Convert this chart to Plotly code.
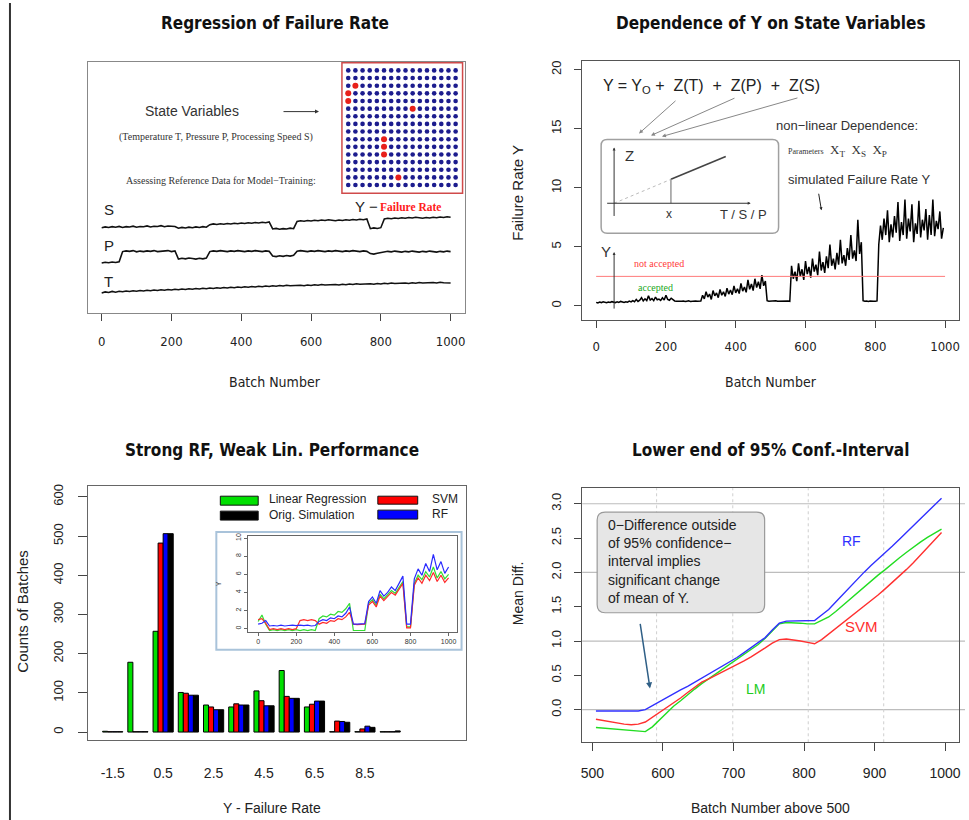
import plotly.graph_objects as go

W, H = 969, 820

# ---------------- data ----------------
# Panel 1: state variables S, P, T (every 10 batches)
batch10 = list(range(0, 1001, 10))
S_level = [33.4, 33.7, 33.5, 33.8, 33.6, 33.9, 33.5, 33.8, 33.7, 34.0, 33.6, 33.9, 33.8, 34.1, 33.7, 34.0, 33.9, 34.2, 33.8, 34.1, 34.0, 33.9,
           33.2, 33.5, 33.3, 33.6, 33.4, 33.7, 33.5, 33.8, 33.6,
           34.6, 34.9, 34.7, 35.0, 34.8, 35.1, 34.9, 35.2, 35.0, 35.3, 35.1, 35.4, 35.2, 35.5, 35.3, 35.6, 35.4, 35.7,
           32.9, 33.1, 32.8, 33.0, 32.9, 33.2, 33.0,
           35.9, 36.2, 36.0, 36.3, 36.1, 36.4, 36.2, 36.5, 36.3, 36.6, 36.4, 36.2, 36.5, 36.3, 36.6, 36.4, 36.7, 36.5, 36.8, 36.6, 36.9,
           33.0, 33.3, 33.1, 33.4,
           36.9, 37.2, 37.0, 37.3, 37.1, 37.4, 37.2, 37.5, 37.3, 37.6, 37.4, 37.2, 37.5, 37.3, 37.6, 37.4, 37.7, 37.5, 37.8, 37.6]
P_level = [19.2, 19.5, 19.3, 19.6, 19.4, 19.7,
           23.8, 24.1, 23.9, 24.2, 23.7, 24.0, 23.8, 24.1, 23.9, 24.2, 23.8, 24.0, 23.9, 24.2, 23.8, 24.1,
           20.8, 21.1, 20.9, 21.2, 21.0, 20.8, 21.1, 20.9, 21.2,
           23.8, 24.1, 23.9, 24.2, 24.0, 23.8, 24.1, 23.9, 24.2, 24.0, 23.8, 24.1, 23.9, 24.2, 24.0, 23.8, 24.1, 23.9,
           22.0, 21.8, 22.1, 21.9, 22.2, 22.0, 22.3,
           23.9, 24.2, 24.0, 23.8, 24.1, 23.9, 24.2, 24.0, 23.8, 24.1, 23.9, 24.2, 24.0, 23.8, 24.1, 23.9, 24.2, 24.0, 23.8, 24.1, 23.9,
           23.0, 22.8, 23.1, 23.3,
           23.6, 23.9, 23.7, 24.0, 23.8, 23.6, 23.9, 23.7, 24.0, 23.8, 23.6, 23.9, 23.7, 24.0, 23.8, 23.6, 23.9, 23.7, 24.0, 23.8]
T_level = [7.2, 7.6, 7.4, 7.8, 7.5, 7.9, 7.7, 8.0, 7.8, 8.1,
           7.9, 8.2, 8.0, 8.3, 8.1, 8.4, 8.2, 8.5, 8.3, 8.6,
           8.4, 8.7, 8.5, 8.8, 8.6, 8.9, 8.7, 9.0, 8.8, 9.1,
           8.9, 9.2, 9.0, 9.3, 9.1, 9.4, 9.2, 9.5, 9.3, 9.6,
           9.4, 9.7, 9.5, 9.8, 9.6, 9.9, 9.7, 10.0, 9.8, 10.1,
           9.9, 10.2, 10.0, 10.3, 10.1, 10.2, 10.0, 10.3, 10.1, 10.4,
           10.2, 10.5, 10.3, 10.6, 10.4, 10.5, 10.3, 10.6, 10.4, 10.7,
           10.5, 10.8, 10.6, 10.9, 10.7, 10.8, 10.6, 10.9, 10.7, 11.0,
           10.8, 11.1, 10.9, 11.2, 11.0, 11.1, 10.9, 11.2, 11.0, 11.3,
           11.1, 11.4, 11.2, 11.3, 11.1, 11.4, 11.2, 11.5, 11.3, 11.4,
           11.2]
state_labels = ["S", "P", "T"]

# Panel 1: 16 x 16 sensor grid, flagged cells in red
grid_n = 16
red_col = [1, 0, 0, 9, 5, 5, 5, 7]
red_row = [2, 3, 4, 5, 9, 10, 11, 14]

# Panel 2: simulated failure rate Y (every 5 batches)
batch5 = list(range(0, 1000, 5))
Y_rate = [0.30, 0.25, 0.32, 0.28, 0.35, 0.30, 0.27, 0.33, 0.29, 0.36,
          0.31, 0.28, 0.34, 0.30, 0.38, 0.33, 0.29, 0.35, 0.31, 0.40,
          0.34, 0.45, 0.36, 0.55, 0.38, 0.48, 0.70, 0.42, 0.60, 0.45,
          0.85, 0.50, 0.62, 0.44, 0.75, 0.52, 0.58, 0.46, 0.68, 0.50,
          0.90, 0.55, 0.48, 0.65, 0.52, 0.42, 0.40, 0.38, 0.42, 0.39,
          0.41, 0.37, 0.40, 0.43, 0.38, 0.41, 0.39, 0.42, 0.40, 0.38,
          0.41,
          0.90, 0.60, 1.20, 0.75, 1.00, 0.55, 1.30, 0.85, 1.10, 0.70,
          1.40, 0.90, 1.20, 0.80, 1.50, 1.00, 1.35, 0.95, 1.70, 1.10,
          1.45, 1.05, 1.90, 1.25, 1.60, 1.15, 2.20, 1.40, 1.85, 1.30,
          2.30, 1.55, 2.05, 1.45, 2.60, 1.70, 2.10,
          0.45, 0.40, 0.42, 0.38, 0.41, 0.44, 0.39, 0.40, 0.43, 0.38, 0.41, 0.40, 0.42, 0.39,
          3.40, 2.30, 2.90, 2.10, 3.60, 2.50, 3.10, 2.20, 3.80, 2.70,
          3.30, 2.40, 4.00, 2.90, 3.50, 2.60, 4.60, 3.00, 3.70, 2.80,
          4.20, 3.20, 5.20, 3.40, 4.00, 3.10, 4.50, 3.50, 5.60, 3.60,
          4.30, 3.40, 4.90, 3.90, 6.00, 4.00, 4.70, 3.80, 7.30, 4.40,
          5.40,
          0.45, 0.40, 0.42, 0.38, 0.41, 0.43, 0.39, 0.40, 0.42,
          5.20, 6.80, 5.60, 7.40, 6.00, 8.10, 5.40, 6.90, 5.80, 7.60,
          6.20, 8.80, 5.50, 7.10, 6.00, 9.00, 5.70, 7.40, 6.30, 8.60,
          5.40, 7.00, 6.10, 8.90, 5.80, 7.30, 6.40, 8.20, 5.60, 7.70,
          6.00, 9.00, 5.90, 7.20, 6.50, 8.00, 5.70, 6.60]
accept_limit = 2.5
limit_span = [0, 1000]

# Panel 3: histogram of failure rate (counts of batches)
hist_bins = ["-1.5", "-0.5", "0.5", "1.5", "2.5", "3.5", "4.5", "5.5", "6.5", "7.5", "8.5", "9.5"]
lm_counts = [2, 178, 257, 101, 69, 64, 105, 157, 64, 1, 1, 1]
svm_counts = [1, 1, 482, 99, 64, 72, 80, 91, 71, 28, 8, 1]
rf_counts = [1, 1, 506, 94, 57, 69, 67, 86, 79, 27, 15, 1]
orig_counts = [1, 1, 506, 94, 57, 69, 67, 86, 79, 25, 12, 3]

# Panel 3 inset: model predictions (every 20 batches)
batch20 = list(range(0, 1001, 20))
lm_pred = [0.8, 1.5, 0.5, -0.2, -0.1, -0.2, -0.1, -0.2, -0.1, -0.2, -0.1, -0.2, -0.1, -0.2, -0.1, -0.2,
           1.1, 1.4, 1.3, 1.6, 1.5, 1.9, 1.8, 2.2, 2.8, -0.2, -0.2, -0.2, -0.2,
           2.8, 3.2, 2.6, 3.8, 3.3, 3.7, 4.2, 3.9, 4.6, 5.2, 0.2, 0.2,
           5.0, 5.9, 5.4, 6.3, 5.7, 6.8, 5.6, 6.3, 5.5, 6.0]
svm_pred = [1.0, 1.1, 0.6, -0.1, 0.0, -0.1, 0.0, -0.1, 0.0, -0.1, 0.0, 0.9, 1.0, 0.9, 1.0, 0.9,
            0.5, 0.7, 0.6, 0.9, 0.8, 1.1, 1.0, 1.3, 1.8, 0.5, 0.45, 0.5, 0.5,
            2.6, 3.0, 2.4, 3.6, 3.1, 3.5, 4.0, 3.7, 4.4, 5.0, 0.1, 0.1,
            4.8, 5.6, 5.0, 5.9, 5.3, 6.2, 5.2, 5.9, 5.1, 5.6]
rf_pred = [0.5, 0.6, 0.9, 0.3, 0.35, 0.3, 0.4, 0.3, 0.35, 0.4, 0.35, 0.4, 0.35, 0.4, 0.3, 0.35,
           0.8, 1.0, 0.9, 1.2, 1.1, 1.4, 1.3, 1.7, 2.4, 0.5, 0.5, 0.5, 0.55,
           3.0, 3.5, 2.8, 4.2, 3.6, 4.0, 4.6, 4.2, 5.0, 5.8, 0.5, 0.5,
           5.5, 6.6, 5.9, 7.2, 6.3, 8.2, 6.5, 7.4, 6.1, 6.8]

# Panel 4: lower end of 95% CI of mean difference
batch_br = list(range(505, 1000, 10))
rf_ci = [-0.02, -0.02, -0.02, -0.02, -0.02, -0.02, -0.02, 0.00,
         0.06, 0.12, 0.18, 0.23, 0.29, 0.34, 0.40, 0.46, 0.51, 0.57, 0.63, 0.69, 0.76, 0.83, 0.90, 0.97,
         1.05, 1.16, 1.26, 1.29, 1.29, 1.29, 1.29, 1.30, 1.38, 1.46, 1.57, 1.68, 1.79, 1.90, 2.00, 2.10,
         2.19, 2.29, 2.38, 2.48, 2.58, 2.68, 2.78, 2.88, 2.98, 3.08]
lm_ci = [-0.26, -0.27, -0.28, -0.29, -0.30, -0.31, -0.32, -0.32,
         -0.25, -0.15, -0.05, 0.05, 0.13, 0.22, 0.30, 0.38, 0.45, 0.52, 0.59, 0.66, 0.73, 0.80, 0.87, 0.95,
         1.04, 1.15, 1.25, 1.27, 1.27, 1.26, 1.25, 1.25, 1.30, 1.35, 1.43, 1.52, 1.61, 1.69, 1.78, 1.87,
         1.96, 2.04, 2.13, 2.21, 2.29, 2.37, 2.44, 2.51, 2.57, 2.63]
svm_ci = [-0.14, -0.16, -0.18, -0.20, -0.21, -0.22, -0.21, -0.18,
          -0.11, -0.05, 0.02, 0.09, 0.17, 0.25, 0.33, 0.40, 0.45, 0.50, 0.55, 0.60, 0.65, 0.71, 0.77, 0.83,
          0.90, 0.97, 1.02, 1.03, 1.02, 1.00, 0.98, 0.96, 1.02, 1.10, 1.18, 1.26, 1.34, 1.42, 1.50, 1.59,
          1.67, 1.76, 1.85, 1.94, 2.04, 2.14, 2.25, 2.36, 2.47, 2.58]
hgrid = [0, 1, 2, 3]
vgrid = [591, 699, 806, 913]

# ---------------- helpers ----------------
def fx(px):
    return px / W

def fy(py):
    return 1 - py / H

NARROW = "Liberation Sans Narrow, DejaVu Sans Condensed, Arial Narrow, Liberation Sans, sans-serif"
SANS = "Liberation Sans, Arial, Helvetica, sans-serif"
SERIF = "Liberation Serif, Times New Roman, serif"

GREEN = "#00e000"
RED = "#ff0000"
BLUE = "#0000ff"

annotations = []
shapes = []

def txt(px, py, text, size=13, color="#111", family=SANS, xanchor="center", yanchor="middle", angle=0):
    annotations.append(dict(x=fx(px), y=fy(py), xref="paper", yref="paper", text=text, showarrow=False,
                            font=dict(size=size, color=color, family=family), xanchor=xanchor,
                            yanchor=yanchor, textangle=angle, align="left"))

def arrow(hx, hy, tx, ty, color="#333", width=1, head=2, size=1.0):
    annotations.append(dict(x=fx(hx), y=fy(hy), xref="paper", yref="paper", ax=tx - hx, ay=ty - hy,
                            text="", showarrow=True, arrowhead=head, arrowsize=size, arrowwidth=width,
                            arrowcolor=color))

def pline(x0, y0, x1, y1, color="#333", width=1, dash="solid"):
    shapes.append(dict(type="line", xref="paper", yref="paper", x0=fx(x0), y0=fy(y0), x1=fx(x1), y1=fy(y1),
                       line=dict(color=color, width=width, dash=dash)))

def prect(x0, y0, x1, y1, line="#333", width=1, fill="rgba(0,0,0,0)", layer="above"):
    shapes.append(dict(type="rect", xref="paper", yref="paper", x0=fx(x0), y0=fy(y0), x1=fx(x1), y1=fy(y1),
                       line=dict(color=line, width=width), fillcolor=fill, layer=layer))

def rrect(x0, y0, x1, y1, r, line="#999", width=1.5, fill="rgba(0,0,0,0)", layer="above"):
    P = lambda a, b: f"{fx(a):.5f},{fy(b):.5f}"
    path = (f"M {P(x0 + r, y0)} L {P(x1 - r, y0)} Q {P(x1, y0)} {P(x1, y0 + r)} "
            f"L {P(x1, y1 - r)} Q {P(x1, y1)} {P(x1 - r, y1)} L {P(x0 + r, y1)} "
            f"Q {P(x0, y1)} {P(x0, y1 - r)} L {P(x0, y0 + r)} Q {P(x0, y0)} {P(x0 + r, y0)} Z")
    shapes.append(dict(type="path", xref="paper", yref="paper", path=path,
                       line=dict(color=line, width=width), fillcolor=fill, layer=layer))

fig = go.Figure()

# ---------------- panel 1 ----------------
for vals in (S_level, P_level, T_level):
    fig.add_trace(go.Scatter(x=batch10, y=vals, mode="lines", line=dict(color="#111", width=1.6),
                             xaxis="x", yaxis="y", showlegend=False, hoverinfo="skip"))

red_set = set(zip(red_col, red_row))
blue_c = [c for r in range(grid_n) for c in range(grid_n) if (c, r) not in red_set]
blue_r = [r for r in range(grid_n) for c in range(grid_n) if (c, r) not in red_set]
fig.add_trace(go.Scatter(x=blue_c, y=blue_r, mode="markers", marker=dict(color="#1c1c8e", size=4.6),
                         xaxis="x7", yaxis="y7", showlegend=False, hoverinfo="skip"))
fig.add_trace(go.Scatter(x=red_col, y=red_row, mode="markers", marker=dict(color="#e8201a", size=6),
                         xaxis="x7", yaxis="y7", showlegend=False, hoverinfo="skip"))

# ---------------- panel 2 ----------------
fig.add_trace(go.Scatter(x=batch5, y=Y_rate, mode="lines", line=dict(color="black", width=1.5),
                         xaxis="x2", yaxis="y2", showlegend=False, hoverinfo="skip"))
fig.add_trace(go.Scatter(x=limit_span, y=[accept_limit, accept_limit], mode="lines",
                         line=dict(color="#ff7a7a", width=1), xaxis="x2", yaxis="y2",
                         showlegend=False, hoverinfo="skip"))

# ---------------- panel 3 ----------------
xi = list(range(len(hist_bins)))
for name, vals, col in [("Linear Regression", lm_counts, GREEN), ("SVM", svm_counts, RED),
                        ("RF", rf_counts, BLUE), ("Orig. Simulation", orig_counts, "#000000")]:
    fig.add_trace(go.Bar(x=xi, y=vals, name=name, marker=dict(color=col, line=dict(color="black", width=1)),
                         xaxis="x3", yaxis="y3", showlegend=False, hoverinfo="skip"))

for vals, col in [(lm_pred, "#33dd33"), (svm_pred, "#ff2a2a"), (rf_pred, "#2a2aff")]:
    fig.add_trace(go.Scatter(x=batch20, y=vals, mode="lines", line=dict(color=col, width=1.2),
                             xaxis="x5", yaxis="y5", showlegend=False, hoverinfo="skip"))

# ---------------- panel 4 ----------------
for y in hgrid:
    shapes.append(dict(type="line", xref="paper", yref="y4", x0=fx(583), x1=fx(967), y0=y, y1=y,
                       line=dict(color="#bdbdbd", width=1.2), layer="below"))
for x in vgrid:
    shapes.append(dict(type="line", xref="x4", yref="paper", x0=x, x1=x, y0=fy(742), y1=fy(487),
                       line=dict(color="#cfcfcf", width=1, dash="dot"), layer="below"))
for vals, col in [(lm_ci, "#22dd22"), (svm_ci, "#ff3030"), (rf_ci, "#3030ff")]:
    fig.add_trace(go.Scatter(x=batch_br, y=vals, mode="lines", line=dict(color=col, width=1.4),
                             xaxis="x4", yaxis="y4", showlegend=False, hoverinfo="skip"))

# ---------------- annotations / decorations ----------------
for (px, py, t) in [(275, 20, "Regression of Failure Rate"), (772, 20, "Dependence of Y on State Variables"),
                    (272, 449, "Strong RF, Weak Lin. Performance"), (772, 449, "Lower end of 95% Conf.-Interval")]:
    txt(px, py, f"<b>{t}</b>", size=17, family=NARROW)

txt(275, 380, "Batch Number", 14, "#222", NARROW)
txt(772, 380, "Batch Number", 14, "#222", NARROW)
txt(518, 190, "Failure Rate Y", 15, "#222", SANS, angle=-90)
txt(272, 808, "Y - Failure Rate", 14, "#222", SANS)
txt(22, 610, "Counts of Batches", 15, "#222", SANS, angle=-90)
txt(772, 808, "Batch Number above 500", 14, "#222", SANS)
txt(518, 592, "Mean Diff.", 14, "#222", SANS, angle=-90)

# panel 1 texts
txt(192, 108, "State Variables", 14, "#333")
arrow(319, 109, 282, 109, "#333", 1, 2, 0.8)
txt(216, 134, "(Temperature T, Pressure P, Processing Speed S)", 10, "#333", SERIF)
txt(221, 178, "Assessing Reference Data for Model\u2212Training:", 10, "#333", SERIF)
for lab, py in zip(state_labels, [207, 243, 280]):
    txt(101, py, lab, 15, "#222", xanchor="left")
txt(353, 204, "Y \u2212", 15, "#222", xanchor="left")
txt(378, 205, "<b>Failure Rate</b>", 11.5, "#ff2020", SERIF, xanchor="left")
prect(342, 60, 463, 191, "#d04a4a", 1.5)

# panel 2 texts
txt(602, 84, "Y = Y<sub>O</sub> +\u00a0\u00a0Z(T)\u00a0\u00a0+\u00a0\u00a0Z(P)\u00a0\u00a0+\u00a0\u00a0Z(S)", 16, "#222", xanchor="left")
arrow(640, 131, 678, 97, "#888", 1, 2, 0.8)
arrow(652, 133, 737, 95, "#888", 1, 2, 0.8)
arrow(663, 134, 800, 95, "#888", 1, 2, 0.8)
txt(775, 123, "non\u2212linear Dependence:", 13, "#333", xanchor="left")
txt(787, 148, "<span style='font-size:8px'>Parameters</span>\u00a0\u00a0X<sub>T</sub>\u00a0\u00a0X<sub>S</sub>\u00a0\u00a0X<sub>P</sub>",
    13, "#333", SERIF, xanchor="left")
txt(787, 177, "simulated Failure Rate Y", 13, "#333", xanchor="left")
arrow(823, 208, 820, 190, "#222", 1, 2, 0.6)
rrect(602, 137, 780, 231, 6, "#a0a0a0", 1.5)
arrow(615, 145, 615, 215, "#333", 1, 2, 0.6)
arrow(752, 201, 607, 201, "#333", 1, 2, 0.6)
pline(615, 201, 672, 177, "#bbbbbb", 1, "dot")
pline(672, 177, 727, 154, "#444", 1.6)
pline(672, 201, 672, 177, "#999", 1.5)
txt(624, 153, "Z", 15, "#333", xanchor="left")
txt(670, 212, "x", 12, "#333")
txt(745, 212, "T / S / P", 13, "#333")
arrow(615, 250, 615, 308, "#333", 1, 2, 0.6)
txt(600, 249, "Y", 15, "#333", xanchor="left")
txt(660, 261, "not accepted", 10, "#ff3a3a", SERIF)
txt(657, 286, "accepted", 10, "#22a822", SERIF)

# panel 3 legend & inset frame
prect(220, 495, 258, 504, "#111", 1, GREEN)
prect(220, 510, 258, 519, "#111", 1, "#000")
prect(378, 495, 418, 503, "#111", 1, RED)
prect(378, 509, 418, 518, "#111", 1, BLUE)
txt(267, 498, "Linear Regression", 12, "#222", xanchor="left")
txt(267, 514, "Orig. Simulation", 12, "#222", xanchor="left")
txt(430, 498, "SVM", 12, "#222", xanchor="left")
txt(430, 513, "RF", 12, "#222", xanchor="left")
prect(216, 531, 462, 649, "#a9c3da", 2)
txt(219, 583, "Y", 7, "#333", angle=-90)

# panel 4 texts
txt(853, 540, "RF", 14, "#3030ff")
txt(863, 626, "SVM", 15, "#ff3030")
txt(757, 689, "LM", 14, "#22cc22")
rrect(598, 511, 766, 612, 8, "#9a9a9a", 1.2, "#e6e6e6")
txt(607, 561, "0\u2212Difference outside<br>of 95% confidence\u2212<br>interval implies<br>significant change<br>of mean of Y.",
    14, "#222", xanchor="left")
arrow(651, 688, 641, 622, "#2f5f86", 1.5, 2, 0.8)

# page border line
pline(9, 0, 9, 820, "#333", 2)

AX = dict(showgrid=False, zeroline=False, showline=True, mirror=True, linewidth=1)

fig.update_layout(
    width=W, height=H, margin=dict(l=0, r=0, t=0, b=0),
    paper_bgcolor="white", plot_bgcolor="white", hovermode=False,
    barmode="group", bargap=0.2, bargroupgap=0,
    annotations=annotations, shapes=shapes,
    xaxis=dict(AX, domain=[fx(87), fx(465)], range=[-40, 1040], anchor="y", linecolor="#888",
               tickvals=list(range(0, 1001, 200)), ticks="outside", ticklen=7, tickcolor="#444",
               tickfont=dict(family=NARROW, size=13, color="#222"), ticklabelstandoff=10),
    yaxis=dict(AX, domain=[fy(311), fy(59)], range=[-0.8, 100], anchor="x", linecolor="#888",
               showticklabels=False, ticks=""),
    xaxis2=dict(AX, domain=[fx(583), fx(961)], range=[-40, 1040], anchor="y2", linecolor="#555",
                tickvals=list(range(0, 1001, 200)), ticks="outside", ticklen=7, tickcolor="#444",
                tickfont=dict(family=NARROW, size=13, color="#222"), ticklabelstandoff=8),
    yaxis2=dict(AX, domain=[fy(318), fy(58)], range=[-1.18, 20.76], anchor="x2", linecolor="#555",
                tickvals=[0, 5, 10, 15, 20], ticks="outside", ticklen=7, tickcolor="#444", tickangle=-90,
                tickfont=dict(family=SANS, size=13, color="#222"), ticklabelstandoff=8),
    xaxis3=dict(AX, domain=[fx(87), fx(466)], range=[-0.99, 13.99], anchor="y3", linecolor="#666",
                tickvals=xi[::2], ticktext=hist_bins[::2], ticks="",
                tickfont=dict(family=SANS, size=14, color="#222"), ticklabelstandoff=20),
    yaxis3=dict(AX, domain=[fy(740), fy(485)], range=[-21, 627], anchor="x3", linecolor="#666",
                tickvals=list(range(0, 601, 100)), ticks="outside", ticklen=9, tickcolor="#444", tickangle=-90,
                tickfont=dict(family=SANS, size=13, color="#222"), ticklabelstandoff=10),
    xaxis4=dict(AX, domain=[fx(583), fx(961)], range=[485.5, 1019.8], anchor="y4", linecolor="#555",
                tickvals=list(range(500, 1001, 100)), ticks="outside", ticklen=8, tickcolor="#444",
                tickfont=dict(family=SANS, size=14, color="#222"), ticklabelstandoff=10),
    yaxis4=dict(AX, domain=[fy(742), fy(487)], range=[-0.475, 3.226], anchor="x4", linecolor="#555",
                tickvals=[0, 0.5, 1, 1.5, 2, 2.5, 3], ticktext=["0.0", "0.5", "1.0", "1.5", "2.0", "2.5", "3.0"],
                ticks="outside", ticklen=7, tickcolor="#444", tickangle=-90,
                tickfont=dict(family=SANS, size=13, color="#222"), ticklabelstandoff=8),
    xaxis5=dict(AX, domain=[fx(248), fx(457)], range=[-52, 1042], anchor="y5", linecolor="#666",
                tickvals=list(range(0, 1001, 200)), ticks="outside", ticklen=3, tickcolor="#666",
                tickfont=dict(family=SANS, size=7, color="#333")),
    yaxis5=dict(AX, domain=[fy(631), fy(535)], range=[-0.33, 10.22], anchor="x5", linecolor="#666",
                tickvals=list(range(0, 11, 2)), ticks="outside", ticklen=3, tickcolor="#666", tickangle=-90,
                tickfont=dict(family=SANS, size=7, color="#333")),
    xaxis7=dict(domain=[fx(342), fx(463)], range=[-0.88, 15.97], anchor="y7", visible=False),
    yaxis7=dict(domain=[fy(191), fy(60)], range=[16.08, -1.0], anchor="x7", visible=False),
)

fig.write_html("out.html", config={"displayModeBar": False},
               post_script="document.body.style.margin='0px';document.body.style.overflow='hidden';")
